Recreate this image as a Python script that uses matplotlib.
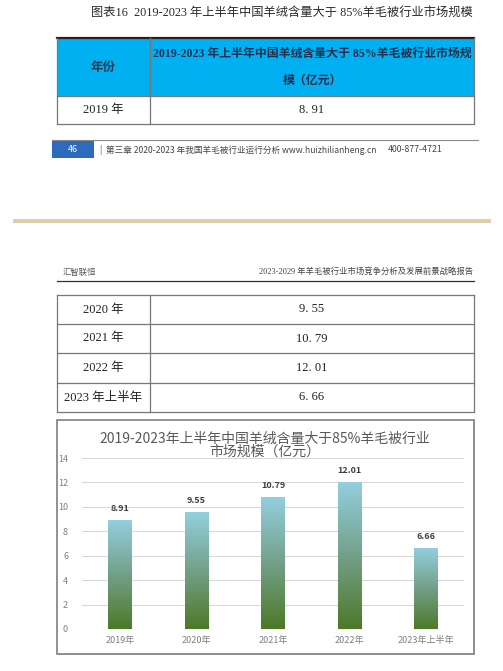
import numpy as np
import matplotlib
matplotlib.use("Agg")
import matplotlib.pyplot as plt
from matplotlib.colors import LinearSegmentedColormap
from matplotlib.patches import Rectangle

plt.rcParams['font.family'] = ['Noto Sans CJK SC', 'DejaVu Sans']

# data
years = ['2019年', '2020年', '2021年', '2022年', '2023年上半年']
table_years = ['2019 年', '2020 年', '2021 年', '2022 年', '2023 年上半年']
values = [8.91, 9.55, 10.79, 12.01, 6.66]
y_ticks = [0, 2, 4, 6, 8, 10, 12, 14]

fig_title = '图表16  2019-2023 年上半年中国羊绒含量大于 85%羊毛被行业市场规模'
col_head = '年份'
val_head = ['2019-2023 年上半年中国羊绒含量大于 85%羊毛被行业市场规', '模（亿元）']
chart_title = '2019-2023年上半年中国羊绒含量大于85%羊毛被行业\n市场规模（亿元）'

serif = ['Liberation Serif', 'Noto Sans CJK SC']

W, H = 503, 671
fig = plt.figure(figsize=(W / 100, H / 100), dpi=100)
fig.patch.set_facecolor('white')

# page layer in pixel coords
pg = fig.add_axes([0, 0, 1, 1])
pg.set_xlim(0, W)
pg.set_ylim(H, 0)
pg.axis('off')

# ---- top page ----
pg.text(473, 14, fig_title, ha='right', va='center', fontsize=8.8,
        color='#2a2a2a', family=serif)

x0, xm, x1 = 57, 150, 474

def row(ytop, ybot, left, right):
    pg.text((x0 + xm) / 2, (ytop + ybot) / 2, left, ha='center', va='center',
            fontsize=9, color='#222222', family=serif)
    pg.text((xm + x1) / 2, (ytop + ybot) / 2, right, ha='center', va='center',
            fontsize=9, color='#222222', family=serif)

# header of table 1
pg.add_patch(Rectangle((x0, 38), x1 - x0, 58, facecolor='#00b0f0', edgecolor='none'))
pg.text((x0 + xm) / 2, 67, col_head, ha='center', va='center', fontsize=9,
        color='#2b3a55', fontweight='bold')
pg.text(312, 54, val_head[0], ha='center', va='center', fontsize=8.6,
        color='#1f2f4f', fontweight='bold', family=serif)
pg.text(312, 81, val_head[1], ha='center', va='center', fontsize=8.6,
        color='#1f2f4f', fontweight='bold', family=serif)
row(96, 124, table_years[0], f'{values[0]:.2f}'.replace('.', '. '))
pg.plot([x0, x1], [38, 38], color='#222222', lw=1.6)
for yy in (96, 124):
    pg.plot([x0, x1], [yy, yy], color='#777777', lw=0.9)
for xx in (x0, xm, x1):
    pg.plot([xx, xx], [38, 124], color='#777777', lw=0.9)

# footer
pg.plot([52, 478], [139.5, 139.5], color='#8a8a8a', lw=0.8)
pg.add_patch(Rectangle((52, 140), 42, 18, facecolor='#2f6bbd', edgecolor='none'))
pg.text(73, 149, '46', ha='center', va='center', fontsize=6.5, color='white')
pg.text(100, 150, '|  第三章 2020-2023 年我国羊毛被行业运行分析 www.huizhilianheng.cn',
        ha='left', va='center', fontsize=6.2, color='#444444')
pg.text(388, 150, '400-877-4721', ha='left', va='center', fontsize=6.3, color='#444444')

# page separator
pg.add_patch(Rectangle((13, 219), 478, 4, facecolor='#dfcdaa', edgecolor='none'))

# ---- second page ----
pg.text(63, 272, '汇智联恒', ha='left', va='center', fontsize=6, color='#555555')
pg.text(473, 272, '2023-2029 年羊毛被行业市场竞争分析及发展前景战略报告', ha='right',
        va='center', fontsize=6, color='#444444', family=serif)
pg.plot([x0, x1], [281, 281], color='#333333', lw=0.9)

bounds = [295, 324, 353, 383, 412]
for i in range(4):
    row(bounds[i], bounds[i + 1], table_years[i + 1], f'{values[i + 1]:.2f}'.replace('.', '. '))
for yy in bounds:
    pg.plot([x0, x1], [yy, yy], color='#777777', lw=0.9)
for xx in (x0, xm, x1):
    pg.plot([xx, xx], [bounds[0], bounds[-1]], color='#777777', lw=0.9)

# chart frame
pg.add_patch(Rectangle((58, 421), 417, 234, facecolor='#d8d8d8', edgecolor='none'))
pg.add_patch(Rectangle((57, 420), 417, 234, facecolor='white', edgecolor='#7f7f7f', lw=1.2))
pg.text(265, 445, chart_title, ha='center', va='center', fontsize=10,
        color='#595959', linespacing=1.0)

# ---- chart ----
ax = fig.add_axes([82 / W, 1 - 629 / H, 382 / W, 171 / H])
ax.set_facecolor('none')
ax.set_zorder(2)
x = np.arange(len(years))
bars = ax.bar(x, values, width=0.31, color='none', edgecolor='none', zorder=3)

cmap = LinearSegmentedColormap.from_list('g', ['#4d7929', '#73a088', '#93cfdf'])
grad = np.linspace(0, 1, 256).reshape(-1, 1)
for b in bars:
    bx, bw, bh = b.get_x(), b.get_width(), b.get_height()
    im = ax.imshow(grad, cmap=cmap, origin='lower', aspect='auto',
                   extent=[bx, bx + bw, 0, bh], zorder=3)
    im.set_clip_path(b)

for xi, v in zip(x, values):
    ax.annotate(f'{v:.2f}', (xi, v), xytext=(0, 5), textcoords='offset points',
                ha='center', va='bottom', fontsize=6.5, fontweight='bold', color='#404040')

ax.set_xlim(-0.5, len(years) - 0.5)
ax.set_ylim(0, 14)
ax.set_yticks(y_ticks)
ax.set_xticks(x)
ax.set_xticklabels(years)
ax.yaxis.grid(True, color='#d9d9d9', lw=0.8, zorder=0)
ax.set_axisbelow(True)
for s in ax.spines.values():
    s.set_visible(False)
ax.tick_params(length=0, labelsize=6.5, labelcolor='#7f7f7f')
ax.tick_params(axis='y', pad=10)
ax.tick_params(axis='x', pad=5)

fig.savefig('out.png', dpi=100)
